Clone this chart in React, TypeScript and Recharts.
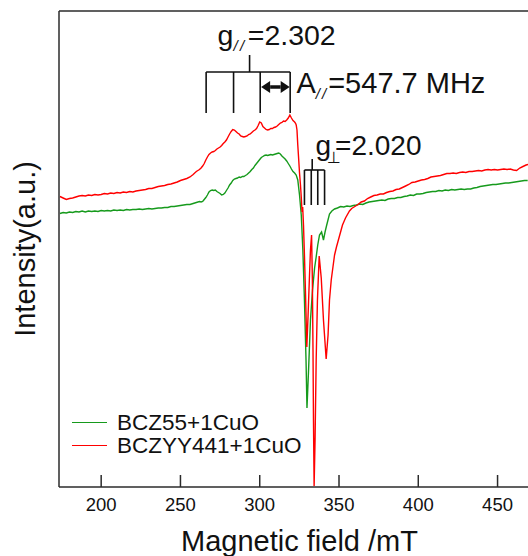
import {
	LineChart,
	Line,
	XAxis,
	YAxis,
	ReferenceLine,
	ReferenceDot,
	Legend,
} from "recharts";

const FONT = "'Liberation Sans', Arial, Helvetica, sans-serif";
const INK = "#111111";
const FRAME = "#2b2b2b";
const GREEN = "#169a1c";
const RED = "#ff0000";

// EPR spectra: field in mT, intensity in a.u.
const bcz55Field = [
	174, 176, 178, 180, 182, 184, 186, 188, 190, 192, 194, 196, 198, 200, 202, 204, 206, 208, 210, 212,
	214, 216, 218, 220, 222, 224, 226, 228, 230, 232, 234, 236, 238, 240, 242, 244, 246, 248, 250, 252,
	254, 256, 258, 260, 262,
	263, 264, 265, 266, 267, 268, 269, 270, 271, 272, 273, 274, 275, 276, 277, 278, 279, 280, 281, 282,
	283, 284, 285, 286, 287, 288, 289, 290, 291, 292, 293, 294, 295, 296, 297, 298, 299, 300, 301, 302,
	303, 304, 305, 306, 307, 308, 309, 310, 311, 312, 313, 314, 315, 316, 317, 318, 319, 320, 321, 322,
	323.0, 324.0, 325.1, 326.2, 327.2, 328.2, 329.2, 329.8, 330.8, 332.0, 333.3, 334.6, 335.6, 336.6,
	337.7, 339.0, 340.2, 341.2, 342.1, 344.0, 345.5, 347.2, 349, 351, 353, 355, 357, 359, 361, 363, 365,
	367, 369, 371,
	373, 375, 377, 379, 381, 383, 385, 387, 389, 391, 393, 395, 397, 399, 401, 403, 405, 407, 409, 411,
	413, 415, 417, 419, 421, 423, 425, 427, 429, 431, 433, 435, 437, 439, 441, 443, 445, 447, 449, 451,
	453, 455, 457, 459, 461, 463, 465, 467, 469,
];
const bcz55Intensity = [
	273.5, 274.5, 274, 275, 274.5, 275.5, 275, 276, 275, 276, 275.5, 276, 275.5, 276.5, 276, 276.5, 276,
	277, 276.5, 277, 276.5, 277.5, 277, 277.5, 277.5, 278, 277.5, 278, 278.5, 278, 278.5, 279, 279, 279.5,
	279.5, 280.5, 280.5, 281, 281.5, 282, 282.5, 282.5, 283.5, 284.5, 285.5,
	285, 285.5, 287.5, 289.5, 292, 295, 296.5, 297, 296.5, 297, 295.5, 294.5, 293.5, 292, 292.5, 294,
	296.5, 299, 302, 304, 306.5, 308, 308.5, 309, 310, 309.5, 310.5, 310.5, 311.5, 312.5, 314, 315.5,
	317.5, 319, 321.5, 323.5, 325.5, 327.5, 329.5, 330.5, 331.5, 332, 331.5, 332, 332.5, 332, 332.5, 333,
	333.5, 334, 333, 331, 329.5, 328, 326, 323.5, 321, 318, 315.5, 314,
	312, 307, 292, 272, 237, 187, 127, 79, 117, 167, 197, 219, 230, 242, 252, 255, 247, 255, 261, 273,
	276, 278, 279, 280.5, 280, 281, 280.5, 281.5, 282, 283, 282.5, 284, 285, 285.5,
	286, 286.5, 287, 286.5, 288, 288.5, 288.5, 289.5, 289.5, 290.5, 291, 292, 291.5, 293, 293, 293.5,
	294.5, 295, 295.5, 295.5, 296.5, 296, 297, 296.5, 297.5, 297, 297.5, 298, 297.5, 298, 298, 299,
	299.5, 300.5, 301, 301.5, 302, 302.5, 302.5, 303, 303.5, 304, 304, 304.5, 305, 305.5, 306, 306.5,
	306.5,
];

const bczyyField = [
	174, 176, 178, 180, 182, 184, 186, 188, 190, 192, 194, 196, 198, 200, 202, 204, 206, 208, 210, 212,
	214, 216, 218, 220, 222, 224, 226, 228, 230, 232, 234, 236, 238, 240, 242, 244, 246, 248, 250, 252,
	254, 256, 258, 260, 262,
	263, 264, 265, 266, 267, 268, 269, 270, 271, 272, 273, 274, 275, 276, 277, 278, 279, 280, 281, 282,
	283, 284, 285, 286, 287, 288, 289, 290, 291, 292, 293, 294, 295, 296, 297, 298, 299, 300, 301, 302,
	303, 304, 305, 306, 307, 308, 309, 310, 311, 312, 313, 314, 315, 316, 317, 318, 319, 320, 321, 322,
	322.6, 323, 323.5, 324.0, 324.6, 325.1, 325.7, 326.2, 326.7, 327.1, 327.6, 328.2, 328.9, 329.7, 330.5,
	331.4, 332.0, 332.7, 333.2, 333.6, 333.9, 334.3, 334.9, 335.6, 336.4, 337.5, 338.8, 340.2, 341.9,
	343.1, 344.0, 345.1, 346.1, 347.2, 348.4, 350.3, 352.2, 354.1, 356.6, 358, 360, 362, 364, 366, 368,
	370,
	372, 374, 376, 378, 380, 382, 384, 386, 388, 390, 392, 394, 396, 398, 400, 402, 404, 406, 408, 410,
	412, 414, 416, 418, 420, 422, 424, 426, 428, 430, 432, 434, 436, 438, 440, 442, 444, 446, 448, 450,
	452, 454, 456, 458, 460, 462, 464, 466, 468, 470,
];
const bczyyIntensity = [
	290.5, 289, 287.5, 288.5, 289, 290, 291, 291.5, 291, 292, 291.5, 292.5, 292, 292.5, 293.5, 293, 294,
	293.5, 294.5, 294, 295, 294.5, 295.5, 295, 296, 296.5, 297, 297.5, 298.5, 298.5, 299.5, 300.5, 301,
	301.5, 302.5, 303, 304, 305, 306.5, 307.5, 308.5, 310, 312.5, 315.5, 317.5,
	319, 321, 323.5, 327, 330, 332.5, 334, 335, 335.5, 336.5, 338, 339, 340, 341.5, 343.5, 345, 347, 350,
	353, 355.5, 357.5, 357, 355.5, 354, 353, 351, 350.5, 350, 350.5, 351, 352.5, 353, 354.5, 356, 357,
	358.5, 361.5, 365, 364, 360.5, 359, 357.5, 357, 357.5, 358.5, 358.5, 359.5, 360, 361, 362.5, 364,
	364.5, 366, 365.5, 367, 369, 372, 369, 366.5, 365,
	363.7, 362, 357, 342, 327, 314, 302, 290, 275, 280, 262, 232, 192, 140, 172, 212, 237, 252, 207, 137,
	67, 1, 47, 127, 187, 231, 209, 167, 128, 152, 187, 207, 219, 232, 240, 251, 262, 269, 276, 278.5,
	280.5, 282.5, 285, 286, 288.5, 290,
	291.5, 292, 293, 293, 294.5, 295.5, 296, 297.5, 298, 299.5, 301, 302.5, 304.5, 305, 306, 307, 307.5,
	308.5, 310, 310.5, 311, 311.5, 312.5, 313.5, 313.5, 314, 313.5, 314.5, 315, 314.5, 315.5, 315.5, 316,
	316.5, 316, 317, 317.5, 317, 317.5, 317, 317.5, 318, 317.5, 318, 317, 316.5, 319, 320.5, 322, 323,
];

const fieldTicks = [200, 250, 300, 350, 400, 450];

// hyperfine combs (mT) for g// and g⊥
const gParallelComb = [266.2, 283.5, 300.3, 319.2];
const gPerpComb = [328.2, 332.5, 336.6, 340.9];

const bcz55Data = bcz55Field.map((field, i) => ({ field, intensity: bcz55Intensity[i] }));
const bczyyData = bczyyField.map((field, i) => ({ field, intensity: bczyyIntensity[i] }));

type Pt = { x: number; y: number };

// comb = bar + legs hanging down + stem going up to the label
function combSegments(legs: number[], barY: number, footY: number, stemX: number, stemTop: number) {
	const segs: [Pt, Pt][] = legs.map((x) => [
		{ x, y: barY },
		{ x, y: footY },
	]);
	segs.push([
		{ x: legs[0], y: barY },
		{ x: legs[legs.length - 1], y: barY },
	]);
	segs.push([
		{ x: stemX, y: barY },
		{ x: stemX, y: stemTop },
	]);
	return segs;
}

const combs = [
	...combSegments(gParallelComb, 415, 374, 293.6, 432),
	...combSegments(gPerpComb, 317, 282, 333.1, 328),
];

// tickSize is negative so the marks point into the plot; y arrives 12px above the axis
function FieldTick(props: any) {
	const { x, y, payload } = props;
	return (
		<text x={x} y={y + 36} textAnchor="middle" fontSize={18.5} fontFamily={FONT} fill={INK}>
			{payload.value}
		</text>
	);
}

function DoubleArrow(props: any) {
	const { x1, y1, x2 } = props;
	const head = 9;
	const half = 6;
	return (
		<g>
			<line x1={x1 + head} y1={y1} x2={x2 - head} y2={y1} stroke={INK} strokeWidth={3.5} />
			<polygon points={`${x1},${y1} ${x1 + head},${y1 - half} ${x1 + head},${y1 + half}`} fill={INK} />
			<polygon points={`${x2},${y1} ${x2 - head},${y1 - half} ${x2 - head},${y1 + half}`} fill={INK} />
		</g>
	);
}

function GParallelNote(props: any) {
	return (
		<text x={props.cx} y={props.cy} fontSize={28.5} fontFamily={FONT} fill={INK}>
			g
			<tspan fontSize={15} fontStyle="italic" dy={6} letterSpacing={2.5}>
				//
			</tspan>
			<tspan dy={-6} dx={1}>
				=2.302
			</tspan>
		</text>
	);
}

function HyperfineNote(props: any) {
	return (
		<text x={props.cx} y={props.cy} fontSize={29} fontFamily={FONT} fill={INK}>
			A
			<tspan fontSize={15} fontStyle="italic" dy={6} letterSpacing={2}>
				//
			</tspan>
			<tspan dy={-6}>=547.7 MHz</tspan>
		</text>
	);
}

function GPerpNote(props: any) {
	return (
		<text x={props.cx} y={props.cy} fontSize={28} fontFamily={FONT} fill={INK}>
			g
			<tspan fontSize={16} dy={8} dx={-4} fontFamily="'DejaVu Sans', sans-serif">
				⊥
			</tspan>
			<tspan dy={-8} dx={-6}>
				=2.020
			</tspan>
		</text>
	);
}

function SeriesLegend(props: any) {
	const { payload } = props;
	return (
		<div style={{ fontFamily: FONT, fontSize: 22.5, color: INK }}>
			{(payload ?? []).map((entry: any) => (
				<div key={entry.value} style={{ display: "flex", alignItems: "center", height: 23 }}>
					<span
						style={{
							display: "inline-block",
							width: 35,
							height: 0,
							borderTop: `1.5px solid ${entry.color}`,
							marginRight: 10,
						}}
					/>
					<span style={{ lineHeight: "23px", whiteSpace: "nowrap" }}>{entry.value}</span>
				</div>
			))}
		</div>
	);
}

export default function App() {
	return (
		<div style={{ position: "fixed", top: 0, left: 0, width: 528, height: 556, background: "#fff" }}>
			<LineChart width={528} height={556} margin={{ top: 11, right: 0, bottom: 0, left: 0 }}>
				<XAxis
					type="number"
					dataKey="field"
					domain={[173.4, 469.2]}
					allowDataOverflow
					ticks={fieldTicks}
					height={69}
					tickSize={-12}
					tickMargin={0}
					tickLine={{ stroke: FRAME, strokeWidth: 1.5 }}
					tick={<FieldTick />}
					axisLine={{ stroke: FRAME, strokeWidth: 1.5 }}
					label={{
						content: (p: any) => (
							<text
								x={p.viewBox.x + p.viewBox.width / 2 + 6}
								y={p.viewBox.y + 64}
								textAnchor="middle"
								fontSize={29}
								fontFamily={FONT}
								fill={INK}
							>
								Magnetic field /mT
							</text>
						),
					}}
				/>
				<YAxis
					type="number"
					dataKey="intensity"
					domain={[0, 476]}
					allowDataOverflow
					width={59}
					tick={false}
					tickLine={false}
					axisLine={{ stroke: FRAME, strokeWidth: 1.5 }}
					label={{
						content: (p: any) => {
							const cy = p.viewBox.y + p.viewBox.height / 2;
							return (
								<text
									x={35}
									y={cy}
									transform={`rotate(-90, 35, ${cy})`}
									textAnchor="middle"
									fontSize={29}
									fontFamily={FONT}
									fill={INK}
								>
									Intensity(a.u.)
								</text>
							);
						},
					}}
				/>
				<ReferenceLine y={476} stroke={FRAME} strokeWidth={1.5} />

				<Legend
					layout="horizontal"
					verticalAlign="middle"
					align="center"
					wrapperStyle={{ left: 72, top: 411, width: "auto" }}
					content={<SeriesLegend />}
				/>

				<Line
					data={bcz55Data}
					dataKey="intensity"
					name="BCZ55+1CuO"
					type="linear"
					stroke={GREEN}
					strokeWidth={1.4}
					dot={false}
					activeDot={false}
					isAnimationActive={false}
				/>
				<Line
					data={bczyyData}
					dataKey="intensity"
					name="BCZYY441+1CuO"
					type="linear"
					stroke={RED}
					strokeWidth={1.4}
					dot={false}
					activeDot={false}
					isAnimationActive={false}
				/>

				{combs.map((seg, i) => (
					<ReferenceLine key={i} segment={seg} stroke={INK} strokeWidth={1.6} />
				))}
				<ReferenceLine
					segment={[
						{ x: 300.9, y: 400 },
						{ x: 318.9, y: 400 },
					]}
					shape={<DoubleArrow />}
				/>

				<ReferenceDot x={273.4} y={442} r={0} shape={<GParallelNote />} />
				<ReferenceDot x={323.2} y={394} r={0} shape={<HyperfineNote />} />
				<ReferenceDot x={335.2} y={332} r={0} shape={<GPerpNote />} />
			</LineChart>
		</div>
	);
}
